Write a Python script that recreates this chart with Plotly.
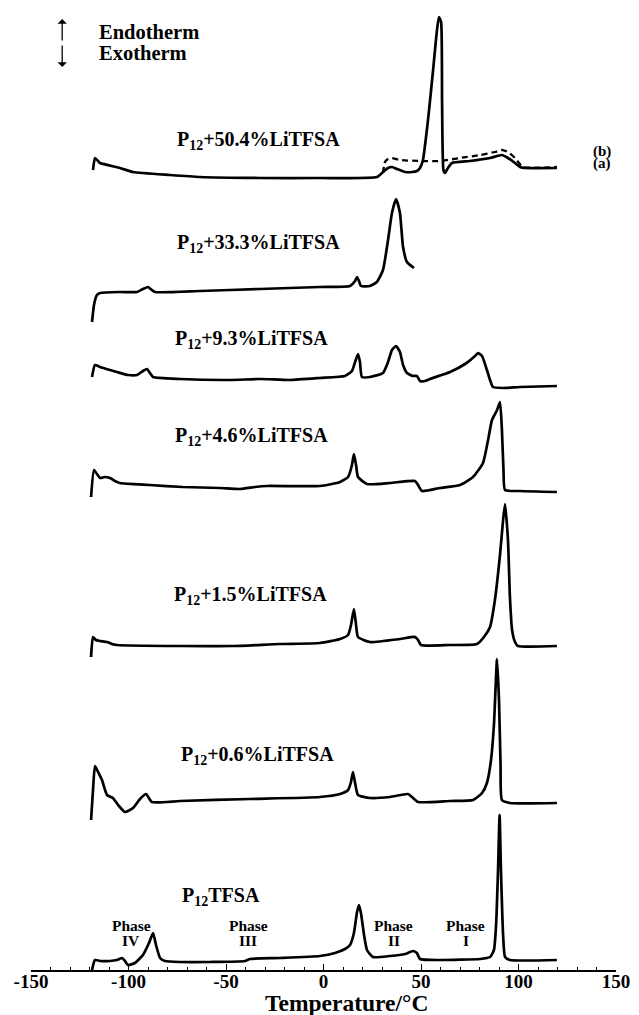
import plotly.graph_objects as go

FONT = "Liberation Serif"

# ---- DSC data: temperature (°C) and signal (arb. units, relative to curve baseline) ----
labels = ["P<sub>12</sub>TFSA", "P<sub>12</sub>+0.6%LiTFSA", "P<sub>12</sub>+1.5%LiTFSA",
          "P<sub>12</sub>+4.6%LiTFSA", "P<sub>12</sub>+9.3%LiTFSA", "P<sub>12</sub>+33.3%LiTFSA",
          "P<sub>12</sub>+50.4%LiTFSA"]
offsets = [10, 167, 324, 478, 584, 678, 802]

t0 = [-118.7, -117.2, -114.6, -109.5, -105.9, -103.3, -101.8, -100.3, -96.7, -92.6, -89.5, -87.4, -85.9,
      -83.8, -81.3, -73.6, -58.2, -40.3, -37.7, -22.3, -1.8, 5.9, 11.0, 13.6, 15.6, 17.2, 18.2, 19.2, 20.8,
      22.3, 25.4, 34.1, 41.8, 45.9, 47.9, 49.5, 59.7, 80.3, 85.4, 87.4, 88.5, 89.5, 90.3, 91.0, 92.1, 93.1,
      95.6, 119.7]
s0 = [-10, 0, -1, -1, 0, 2, -1, -5, -3, 5, 17, 27, 15, 2, -1, -2, -2, -1, 1, 2, 4, 7, 11, 15, 27, 48, 55,
      47, 25, 10, 3, 4, 6, 9, 7, 1, 0, 1, 3, 10, 35, 90, 145, 90, 25, 3, 0, 0]

t1 = [-119.2, -118.2, -117.2, -115.6, -113.6, -111.0, -108.0, -104.9, -101.8, -97.7, -94.1, -91.0, -88.0,
      -73.6, -37.7, -1.8, 8.5, 12.6, 14.1, 15.1, 16.2, 17.7, 23.8, 34.1, 43.3, 45.4, 48.5, 64.9, 76.7, 81.3,
      83.8, 85.9, 87.4, 89.0, 90.0, 90.8, 91.5, 95.6, 119.7]
s1 = [-17, 13, 37, 31, 23, 8, 5, -3, -9, -5, 4, 9, 1, 2, 4, 6, 9, 13, 21, 31, 20, 8, 5, 6, 9, 6, 1, 2, 3,
      10, 20, 43, 78, 144, 103, 38, 3, 0, 0]

t2 = [-119.2, -118.2, -116.7, -114.6, -111.0, -108.5, -105.9, -73.6, -46.4, -22.3, -1.8, 8.5, 12.6, 14.1,
      15.6, 16.7, 17.7, 23.8, 39.2, 46.9, 48.5, 50.0, 64.9, 78.7, 82.3, 85.4, 87.9, 90.5, 92.1, 93.1, 94.6,
      95.6, 96.7, 98.2, 99.7, 119.7]
s2 = [-11, 9, 6, 5, 4, 2, 1, 0, 0, 2, 3, 7, 11, 21, 37, 21, 9, 4, 7, 9, 6, 1, 1, 2, 9, 19, 46, 91, 126,
      142, 106, 49, 16, 4, 0, 0]

t3 = [-119.2, -117.7, -116.2, -114.6, -112.1, -109.5, -107.0, -104.4, -89.0, -72.1, -53.1, -42.8, -35.1,
      -29.0, -1.8, 8.5, 12.6, 14.6, 15.6, 16.7, 17.7, 22.3, 34.1, 46.9, 48.5, 50.5, 59.7, 70.0, 76.7, 81.8,
      84.4, 86.4, 89.0, 90.5, 91.5, 92.3, 93.1, 100.8, 119.7]
s3 = [-5, 22, 18, 14, 15, 14, 11, 9, 7, 5, 4, 3, 5, 6, 6, 10, 15, 27, 38, 27, 15, 8, 9, 11, 7, 1, 4, 7,
      15, 29, 52, 72, 82, 90, 62, 22, 2, 1, 0]

t4 = [-118.7, -117.2, -114.6, -109.5, -105.9, -100.3, -95.6, -92.6, -90.5, -89.0, -87.4, -73.6, -48.0,
      -32.6, -17.2, -1.8, 11.0, 14.6, 16.2, 17.7, 18.7, 19.7, 23.8, 30.5, 33.1, 35.1, 37.2, 39.2, 40.8, 42.8,
      45.9, 47.9, 49.5, 52.1, 54.6, 64.9, 72.6, 77.7, 79.2, 81.3, 83.8, 85.4, 86.9, 92.1, 100.8, 119.7]
s4 = [9, 21, 19, 16, 14, 11, 11, 15, 17, 13, 9, 7, 6, 7, 6, 8, 10, 15, 24, 32, 24, 9, 9, 13, 24, 36, 40,
      34, 21, 13, 10, 10, 5, 5, 7, 14, 22, 30, 33, 30, 16, 6, -1, -2, -1, 0]

t5 = [-118.7, -117.7, -116.2, -114.6, -104.4, -95.6, -92.6, -90.0, -88.0, -86.4, -63.3, -32.6, -1.8, 13.6,
      16.2, 17.2, 18.2, 19.2, 23.8, 27.4, 30.5, 33.1, 35.1, 37.2, 39.2, 40.8, 42.8, 46.4]
s5 = [-30, -13, -3, -1, 0, 0, 3, 5, 2, 0, 1, 3, 5, 6, 11, 15, 11, 6, 6, 10, 22, 52, 79, 93, 79, 45, 30, 24]

t6a = [-118.2, -117.2, -115.6, -114.6, -104.4, -97.7, -78.7, -63.3, -32.6, -1.8, 27.4, 30.5, 33.1, 35.1,
       37.7, 41.8, 45.4, 47.9, 49.5, 51.0, 53.6, 56.2, 58.2, 59.2, 60.3, 60.8, 61.5, 62.3, 63.8, 65.9, 75.1,
       85.4, 91.5, 94.6, 98.2, 100.8, 103.3, 119.7]
s6a = [-2, 10, 7, 5, 0, -4, -7, -9, -10, -10, -9, -4, 0, 1, -1, -4, -4, -3, 0, 8, 48, 98, 138, 151, 146,
       68, -2, -5, 0, 5, 7, 10, 13, 10, 5, 1, 0, 0]

t6b = [30.5, 31.5, 33.1, 35.1, 39.2, 49.5, 59.7, 70.0, 80.3, 87.9, 91.5, 94.6, 98.2, 102.3, 119.7]
s6b = [-5, 6, 9, 10, 8, 7, 7, 10, 13, 16, 18, 16, 10, 1, 1]

temps = [t0, t1, t2, t3, t4, t5, t6a]
signals = [s0, s1, s2, s3, s4, s5, s6a]

tick_vals = [-150, -100, -50, 0, 50, 100, 150]
tick_text = ["-150", "-100", "-50", "0", "50", "100", "150"]

# label anchor positions (x = °C of left edge, y = plot units)
label_x = [-73.6, -74.1, -77.7, -77.2, -77.2, -76.2, -76.2]
label_y = [74, 215, 375, 533.5, 630.5, 726.5, 830]

phase_names = ["IV", "III", "II", "I"]
phase_x = [-98.5, -38.5, 36.0, 73.0]

fig = go.Figure()
for t, s, off in zip(temps, signals, offsets):
    fig.add_trace(go.Scatter(x=t, y=[v + off for v in s], mode="lines",
                             line=dict(color="black", width=2.7, shape="spline", smoothing=0.5),
                             hoverinfo="skip"))
fig.add_trace(go.Scatter(x=t6b, y=[v + offsets[6] for v in s6b], mode="lines",
                         line=dict(color="black", width=2.3, dash="6px,4px", shape="spline", smoothing=0.5),
                         hoverinfo="skip"))

ann = []
bold = dict(family=FONT, color="black", weight="bold")
for lab, lx, ly in zip(labels, label_x, label_y):
    ann.append(dict(x=lx, y=ly, text="<b>" + lab + "</b>", xanchor="left", yanchor="middle", showarrow=False,
                    font=dict(size=20, **bold)))
for name, px in zip(phase_names, phase_x):
    ann.append(dict(x=px, y=45, text="<b>Phase</b>", xanchor="center", yanchor="middle", showarrow=False,
                    font=dict(size=15.5, **bold)))
    ann.append(dict(x=px, y=30, text="<b>" + name + "</b>", xanchor="center", yanchor="middle",
                    showarrow=False, font=dict(size=15.5, **bold)))
ann.append(dict(x=-116.2, y=938.5, text="<b>Endotherm</b>", xanchor="left", yanchor="middle",
                showarrow=False, font=dict(size=20.5, **bold)))
ann.append(dict(x=-116.2, y=917.5, text="<b>Exotherm</b>", xanchor="left", yanchor="middle",
                showarrow=False, font=dict(size=20.5, **bold)))
ann.append(dict(x=137.0, y=819, text="<b>(b)</b>", xanchor="left", yanchor="middle", showarrow=False,
                font=dict(size=15, **bold)))
ann.append(dict(x=137.0, y=807, text="<b>(a)</b>", xanchor="left", yanchor="middle", showarrow=False,
                font=dict(size=15, **bold)))
# endotherm / exotherm arrows
ann.append(dict(x=-134, y=951, ax=-134, ay=928, axref="x", ayref="y", xref="x", yref="y", text="",
                showarrow=True, arrowhead=1, arrowsize=1.2, arrowwidth=1.3, arrowcolor="black"))
ann.append(dict(x=-134, y=903, ax=-134, ay=926, axref="x", ayref="y", xref="x", yref="y", text="",
                showarrow=True, arrowhead=1, arrowsize=1.2, arrowwidth=1.3, arrowcolor="black"))
# x title (below the axis)
ann.append(dict(x=12, xref="x", y=0, yref="paper", yshift=-18, text="<b>Temperature/°C</b>",
                xanchor="center", yanchor="top", showarrow=False, font=dict(size=23.5, **bold)))

fig.update_layout(
    width=639, height=1015,
    margin=dict(l=31, r=23, t=10, b=45),
    paper_bgcolor="white", plot_bgcolor="white",
    showlegend=False,
    annotations=ann,
    xaxis=dict(range=[-150, 150], tickmode="array", tickvals=tick_vals,
               ticktext=["<b>" + s + "</b>" for s in tick_text],
               ticks="inside", ticklen=6, tickwidth=1.3, tickcolor="black",
               ticklabelstandoff=-7,
               minor=dict(ticks="inside", ticklen=3, tickmode="linear", tick0=-150, dtick=10,
                          tickwidth=1, tickcolor="black"),
               showline=True, linecolor="black", linewidth=1.5, showgrid=False, zeroline=False,
               tickfont=dict(family=FONT, size=19, color="black", weight="bold"),
               fixedrange=True),
    yaxis=dict(range=[0, 960], visible=False, showgrid=False, zeroline=False, fixedrange=True),
)

fig.write_html("out.html", config={"displayModeBar": False},
               post_script="document.body.style.margin='0';document.body.style.overflow='hidden';")
